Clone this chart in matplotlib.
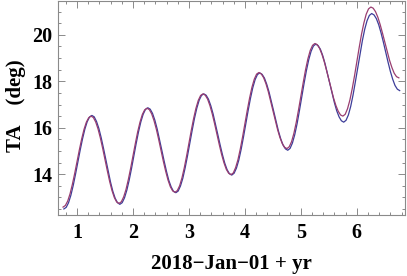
import numpy as np
import matplotlib.pyplot as plt
from matplotlib.ticker import MultipleLocator

# half-monthly samples (years since 2018-Jan-01)
t_blue = np.round(0.765 + np.arange(145) / 24, 4)
t_red = np.round(0.75 + np.arange(145) / 24, 4)

ta_blue = [12.50, 12.57, 12.77, 13.09, 13.51, 14.00, 14.52, 15.04, 15.52, 15.94, 16.26, 16.46,
           16.53, 16.47, 16.27, 15.97, 15.57, 15.11, 14.62, 14.12, 13.66, 13.26, 12.96, 12.77,
           12.70, 12.77, 12.98, 13.31, 13.74, 14.24, 14.78, 15.32, 15.82, 16.25, 16.58, 16.79,
           16.86, 16.80, 16.62, 16.33, 15.95, 15.50, 15.03, 14.56, 14.12, 13.73, 13.45, 13.26,
           13.20, 13.27, 13.49, 13.82, 14.27, 14.78, 15.33, 15.88, 16.40, 16.84, 17.18, 17.39,
           17.46, 17.40, 17.23, 16.95, 16.59, 16.16, 15.71, 15.26, 14.84, 14.47, 14.19, 14.02,
           13.96, 14.04, 14.26, 14.60, 15.06, 15.59, 16.16, 16.73, 17.26, 17.72, 18.07, 18.29,
           18.36, 18.30, 18.14, 17.87, 17.53, 17.12, 16.70, 16.27, 15.86, 15.52, 15.25, 15.09,
           15.03, 15.11, 15.34, 15.70, 16.17, 16.73, 17.32, 17.91, 18.46, 18.93, 19.29, 19.52,
           19.60, 19.54, 19.38, 19.11, 18.76, 18.35, 17.92, 17.49, 17.08, 16.73, 16.47, 16.30,
           16.24, 16.32, 16.55, 16.92, 17.41, 17.98, 18.58, 19.18, 19.75, 20.24, 20.61, 20.84,
           20.92, 20.86, 20.70, 20.44, 20.09, 19.69, 19.26, 18.83, 18.43, 18.09, 17.82, 17.66,
           17.60]

ta_red = [12.58, 12.65, 12.84, 13.15, 13.56, 14.03, 14.54, 15.05, 15.52, 15.93, 16.24, 16.43,
          16.50, 16.44, 16.25, 15.95, 15.56, 15.11, 14.62, 14.14, 13.68, 13.29, 12.99, 12.80,
          12.74, 12.81, 13.02, 13.34, 13.77, 14.26, 14.79, 15.32, 15.82, 16.24, 16.57, 16.77,
          16.84, 16.78, 16.60, 16.31, 15.94, 15.50, 15.03, 14.56, 14.13, 13.75, 13.46, 13.28,
          13.22, 13.29, 13.50, 13.84, 14.28, 14.79, 15.34, 15.89, 16.40, 16.84, 17.18, 17.39,
          17.46, 17.40, 17.23, 16.95, 16.59, 16.17, 15.72, 15.27, 14.85, 14.49, 14.21, 14.04,
          13.98, 14.05, 14.28, 14.62, 15.08, 15.61, 16.18, 16.75, 17.28, 17.74, 18.09, 18.31,
          18.38, 18.32, 18.16, 17.90, 17.56, 17.16, 16.74, 16.32, 15.92, 15.58, 15.32, 15.16,
          15.10, 15.18, 15.40, 15.76, 16.23, 16.78, 17.37, 17.95, 18.50, 18.97, 19.33, 19.55,
          19.63, 19.58, 19.42, 19.17, 18.85, 18.47, 18.07, 17.66, 17.28, 16.96, 16.71, 16.55,
          16.50, 16.58, 16.82, 17.19, 17.68, 18.24, 18.85, 19.46, 20.03, 20.51, 20.89, 21.12,
          21.20, 21.15, 21.00, 20.76, 20.44, 20.07, 19.68, 19.28, 18.91, 18.60, 18.35, 18.20,
          18.15]

blue = (0.24, 0.24, 0.6)
purple = (0.6, 0.24, 0.44)
frame = '#8a8a8a'

plt.rcParams['font.family'] = 'Liberation Serif'
plt.rcParams['font.weight'] = 'bold'

fig = plt.figure(figsize=(4.07, 2.76), dpi=100)
ax = fig.add_axes([58 / 407, 61 / 276, 347 / 407, 214 / 276])

ax.plot(t_blue, ta_blue, color=blue, lw=0.9)
ax.plot(t_red, ta_red, color=purple, lw=0.9)

ax.set_xlim(0.66, 6.86)
ax.set_ylim(12.24, 21.46)

ax.xaxis.set_major_locator(MultipleLocator(1))
ax.xaxis.set_minor_locator(MultipleLocator(0.2))
ax.yaxis.set_major_locator(MultipleLocator(2))
ax.yaxis.set_minor_locator(MultipleLocator(0.5))

for s in ax.spines.values():
    s.set_color(frame)
    s.set_linewidth(0.8)

ax.tick_params(which='both', direction='in', top=True, right=True,
               color=frame, width=0.7, labelsize=14.5)
ax.tick_params(axis='x', pad=6)
ax.tick_params(axis='y', pad=4)
ax.tick_params(which='major', length=5)
ax.tick_params(which='minor', length=2.5)
for lbl in ax.get_xticklabels() + ax.get_yticklabels():
    lbl.set_fontweight('bold')

ax.set_xlabel('2018\u2212Jan\u221201 + yr', fontsize=15, fontweight='bold')
ax.set_ylabel('TA    (deg)', fontsize=15, fontweight='bold')
ax.xaxis.set_label_coords(0.5, -0.18)
ax.yaxis.set_label_coords(-0.093, 0.51)

fig.savefig('out.png', dpi=100)
